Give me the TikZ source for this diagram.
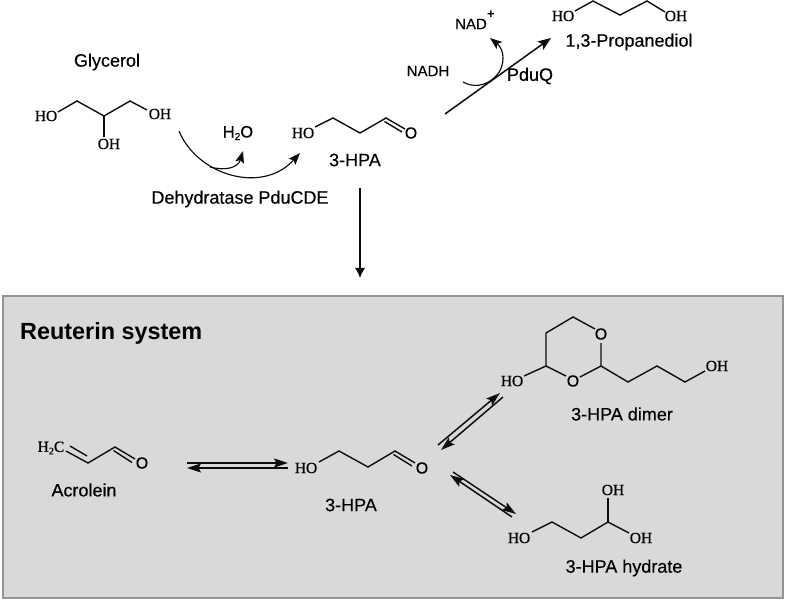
\documentclass[tikz,border=0pt]{standalone}
\usepackage{fontspec}
\setmainfont{Liberation Sans}
\newfontfamily\atomfont[FakeBold=0.5]{Liberation Serif}
\newfontfamily\labfont[FakeBold=0.35]{Liberation Sans}
\usetikzlibrary{arrows.meta}
\tikzset{
  lab/.style={inner sep=0pt,font=\fontsize{18}{20}\selectfont\labfont},
  smalllab/.style={inner sep=0pt,font=\fontsize{15}{17}\selectfont\labfont},
  titlelab/.style={inner sep=0pt,anchor=west,font=\fontsize{23.4}{25}\selectfont\bfseries},
  atom/.style={inner sep=0pt,font=\fontsize{15.5}{17}\selectfont\atomfont},
  oxy/.style={inner sep=0pt,font=\fontsize{16}{18}\selectfont\labfont},
  bond/.style={line width=1.4pt,line join=miter,black!95},
  rxn/.style={line width=1.5pt,black!95,-{Stealth[length=13pt,width=10pt,inset=2.5pt]}},
  thinrxn/.style={line width=1.15pt,black!95,-{Stealth[length=12pt,width=9pt,inset=2.5pt]}},
  eqline/.style={line width=1.5pt,black!95,-{Stealth[length=14pt,width=9pt,inset=2.5pt]}},
}
\begin{document}
\begin{tikzpicture}[x=1pt,y=-1pt]
\useasboundingbox (0,0) rectangle (786,601);
\fill[white] (0,0) rectangle (786,601);
\draw[line width=1.4pt,draw=black!42,fill=black!15] (3,296) rectangle (783,598);

% glycerol
\node[lab] (glyL) at (107,62) {Glycerol};
\node[atom] (glyHO) at (46,116) {HO};
\node[atom] (glyOHr) at (160,114) {OH};
\node[atom] (glyOHb) at (109,144) {OH};
\draw[bond] (58,112) -- (77,101) -- (104,116) -- (130,101) -- (147,110);
\draw[bond] (104,116) -- (104,137);

% dehydratase arrows
\coordinate (gs) at (179,131);
\coordinate (ge) at (300,153);
\coordinate (gb) at (210,167);
\coordinate (we) at (243,151);
\draw[thinrxn] (gs) .. controls (197,175) and (262,195) .. (ge);
\draw[thinrxn] (gb) .. controls (225,171) and (238,168) .. (we);
\node[atom,font=\fontsize{16.5}{18}\selectfont\labfont] (water) at (238,133) {H\raisebox{-2.5pt}{\fontsize{10}{11}\selectfont 2}O};
\node[lab] (dehyd) at (240,199) {Dehydratase PduCDE};

% top 3-HPA
\node[atom] (hpaHO) at (303,133) {HO};
\node[oxy] (hpaO) at (411,133) {O};
\draw[bond] (315,127) -- (333,118) -- (360,133) -- (386,118) -- (405,129);
\draw[bond] (384.5,121.5) -- (402,132);
\node[lab] (hpaL) at (355,160) {3-HPA};

% down arrow
\coordinate (ds) at (360,188);
\coordinate (de) at (360,278);
\draw[line width=1.2pt,black!95,-{Latex[length=10pt,width=10pt]}] (ds) -- (de);

% PduQ
\coordinate (qs) at (445,114);
\coordinate (qe) at (551,38);
\draw[rxn] (qs) -- (qe);
\coordinate (ns) at (463,82);
\coordinate (ne) at (490,38);
\draw[thinrxn] (ns) .. controls (472,87) and (485,88) .. (497,75) .. controls (505,66) and (505,50) .. (ne);
\node[smalllab] (nadh) at (428,71) {NADH};
\node[smalllab] (nad) at (471,24) {NAD};
\node[inner sep=0pt,font=\fontsize{13}{14}\selectfont\bfseries] (plus) at (491,15) {+};
\node[lab] (pduq) at (530,76) {PduQ};

% propanediol
\node[atom] (pdHO) at (563,16) {HO};
\node[atom] (pdOH) at (676,16) {OH};
\draw[bond] (575,11) -- (593,1) -- (620,15) -- (647,1) -- (665,12);
\node[lab] (pdL) at (629,42) {1,3-Propanediol};

% panel title
\node[titlelab] (title) at (20,333) {Reuterin system};

% acrolein
\node[atom] (h2c) at (51,448) {H\raisebox{-2.5pt}{\fontsize{10}{11}\selectfont 2}C};
\node[oxy] (aO) at (142,463) {O};
\draw[bond] (66,451) -- (88,463) -- (115,447) -- (135,459);
\draw[bond] (70,446) -- (87,456);
\draw[bond] (113.5,450.5) -- (132,462.5);
\node[lab] (acrL) at (84,490) {Acrolein};

% equilibrium acrolein / 3-HPA
\coordinate (e1a) at (187,463);
\coordinate (e1b) at (288,463);
\coordinate (e1c) at (288,468);
\coordinate (e1d) at (187,468);
\draw[eqline] (e1a) -- (e1b);
\draw[eqline] (e1c) -- (e1d);

% central 3-HPA
\node[atom] (cHO) at (306,468) {HO};
\node[oxy] (cO) at (422,468) {O};
\draw[bond] (319,462) -- (339,451) -- (368,467) -- (395,451) -- (415,463);
\draw[bond] (393.5,454.5) -- (412,466);
\node[lab] (cL) at (351,505) {3-HPA};

% dimer
\node[atom] (dHO) at (512,381) {HO};
\node[oxy] (dO1) at (601,334) {O};
\node[oxy] (dO2) at (573,381) {O};
\node[atom] (dOH) at (717,366) {OH};
\draw[bond] (524,376) -- (546,366) -- (546,333) -- (573,317) -- (595,329);
\draw[bond] (601,343) -- (601,366) -- (580,377);
\draw[bond] (566,376) -- (546,366);
\draw[bond] (601,366) -- (628,382) -- (657,366) -- (685,382) -- (705,371);
\node[lab] (dimL) at (622,414) {3-HPA dimer};

% equilibrium dimer
\coordinate (e2a) at (438,445);
\coordinate (e2b) at (500,393);
\coordinate (e2c) at (503,397);
\coordinate (e2d) at (441,450);
\draw[eqline] (e2a) -- (e2b);
\draw[eqline] (e2c) -- (e2d);

% equilibrium hydrate
\coordinate (e3a) at (453,472);
\coordinate (e3b) at (516,514);
\coordinate (e3c) at (512,517);
\coordinate (e3d) at (450,475);
\draw[eqline] (e3a) -- (e3b);
\draw[eqline] (e3c) -- (e3d);

% hydrate
\node[atom] (hHO) at (519,538) {HO};
\node[atom] (hOH1) at (613,490) {OH};
\node[atom] (hOH2) at (641,538) {OH};
\draw[bond] (532,532) -- (552,522) -- (581,538) -- (608,522) -- (629,533);
\draw[bond] (608,522) -- (608,498);
\node[lab] (hydL) at (624,568) {3-HPA hydrate};
\end{tikzpicture}
\end{document}
